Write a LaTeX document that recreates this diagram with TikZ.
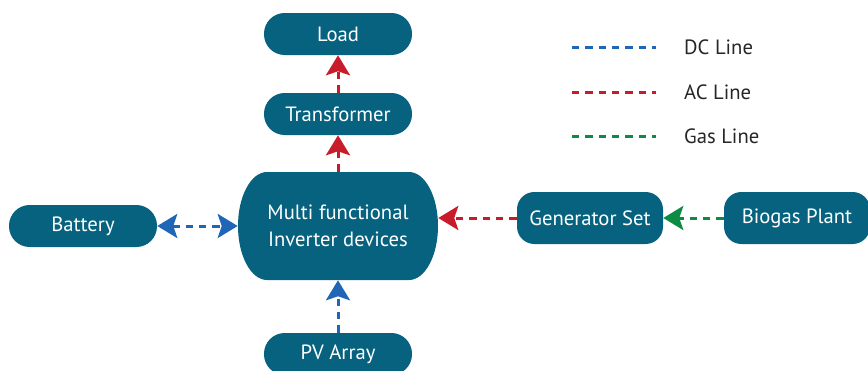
\documentclass[tikz,border=0pt]{standalone}
\usepackage{fontspec}
\setmainfont{PT Sans}
\usetikzlibrary{arrows.meta}

\definecolor{boxteal}{RGB}{6,98,126}
\definecolor{dcblue}{RGB}{32,102,182}
\definecolor{acred}{RGB}{200,28,42}
\definecolor{gasgreen}{RGB}{12,140,66}

\tikzset{
  unit/.style={fill=boxteal, text=white, rounded corners=15.5pt, minimum width=111pt, minimum height=31.5pt, inner sep=0pt, font=\fontsize{15.5}{18}\selectfont},
  plant/.style={unit, rounded corners=13pt, minimum width=109.5pt, minimum height=39pt},
  flow/.style={line width=2.25pt, dash pattern=on 5.5pt off 4.5pt},
  head/.style={-{Stealth[length=15pt,width=18pt,inset=3pt]}},
  bothhead/.style={{Stealth[length=15pt,width=18pt,inset=3pt]}-{Stealth[length=15pt,width=18pt,inset=3pt]}},
  dcline/.style={flow, draw=dcblue},
  acline/.style={flow, draw=acred},
  gasline/.style={flow, draw=gasgreen},
  legend/.style={anchor=west, inner sep=0pt, text=black!85, font=\fontsize{15.5}{18}\selectfont}
}

\begin{document}
\begin{tikzpicture}[x=0.75pt,y=0.75pt,yscale=-1,xscale=1]
\useasboundingbox (0,0) rectangle (868,371);

%Inverter body
\fill [boxteal] (267,172) -- (409,172) arc[start angle=-90,end angle=90,x radius=29,y radius=54] -- (267,280) arc[start angle=90,end angle=270,x radius=29,y radius=54] -- cycle;
\node (inv) [text=white, inner sep=0pt, minimum width=150pt, minimum height=81pt, align=center, font=\fontsize{15.5}{20}\selectfont] at (338,226) {Multi functional\\Inverter devices};

% boxes
\node (load) [unit] at (338,34) {Load};
\node (tr) [unit] at (338,114) {Transformer};
\node (bat) [unit] at (83,226) {Battery};
\node (pv) [unit] at (338,354) {PV Array};
\node (gen) [plant] at (590,218) {Generator Set};
\node (bio) [plant] at (797,218) {Biogas Plant};

% connectors
\draw [acline, head] (tr.north) -- (load.south);
\draw [acline, head] (inv.north) -- (tr.south);
\draw [dcline, bothhead] (bat.east) -- (inv.west);
\draw [dcline, head] (pv.north) -- (inv.south);
\draw [acline, head] (gen.west) -- (gen.west -| inv.east);
\draw [gasline, head] (bio.west) -- (gen.east);

% legend
\coordinate (dc) at (572,47);
\coordinate (ac) at (572,92);
\coordinate (gas) at (572,136);
\draw [dcline] (dc) -- ++(84,0) node (dct) [legend, xshift=20pt] {DC Line};
\draw [acline] (ac) -- ++(84,0) node (act) [legend, xshift=20pt] {AC Line};
\draw [gasline] (gas) -- ++(84,0) node (gast) [legend, xshift=20pt] {Gas Line};

\end{tikzpicture}
\end{document}
